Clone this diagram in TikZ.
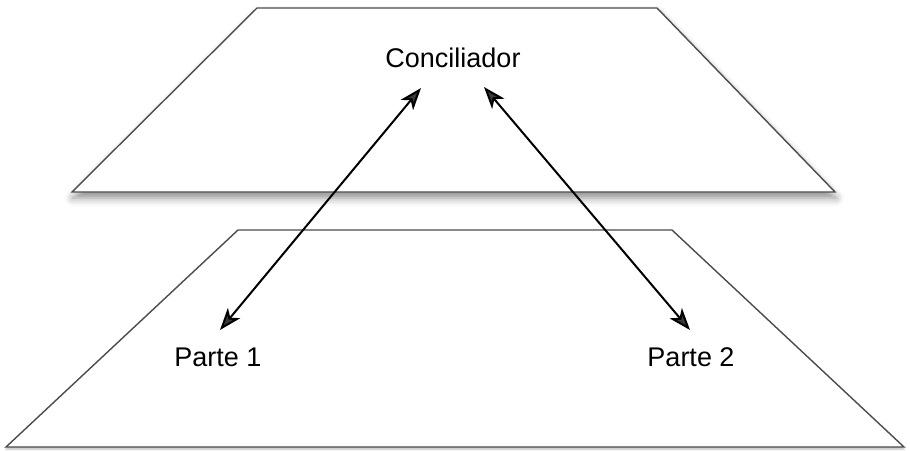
\documentclass[tikz,border=0pt]{standalone}
\usepackage{fontspec}
\setmainfont{Liberation Sans}
\usetikzlibrary{arrows.meta,shadows.blur}
\begin{document}
\begin{tikzpicture}[x=1pt,y=-1pt,
  plane/.style={draw=black!70,line width=1.4pt,fill=white,line join=miter,
    blur shadow={shadow xshift=1pt,shadow yshift=-6pt,shadow blur radius=8pt,shadow opacity=45}},
  lowplane/.style={draw=black!70,line width=1.4pt,fill=white,line join=miter,
    blur shadow={shadow xshift=0pt,shadow yshift=-2pt,shadow blur radius=2pt,shadow opacity=30}},
  label/.style={font=\fontsize{27}{30}\selectfont,inner sep=0pt},
  link/.style={line width=2pt,
    {Stealth[length=22pt,width=16pt,inset=6pt]}-{Stealth[length=22pt,width=16pt,inset=6pt]}}]
  \useasboundingbox (0,0) rectangle (910,450);

  % lower plane
  \draw[lowplane] (238,230) -- (672,230) -- (904,447) -- (6,447) -- cycle;
  % upper plane
  \draw[plane] (257,8) -- (657,8) -- (835,192) -- (72,192) -- cycle;

  % parties
  \node[label] (conc) at (453,58) {Conciliador};
  \node[label] (p1) at (218,357) {Parte 1};
  \node[label] (p2) at (691,357) {Parte 2};

  % arrow ends
  \coordinate (c1) at (421,88);
  \coordinate (e1) at (220,330);
  \coordinate (c2) at (484,87);
  \coordinate (e2) at (690,330);

  \draw[link] (c1) -- (e1);
  \draw[link] (c2) -- (e2);
\end{tikzpicture}
\end{document}
